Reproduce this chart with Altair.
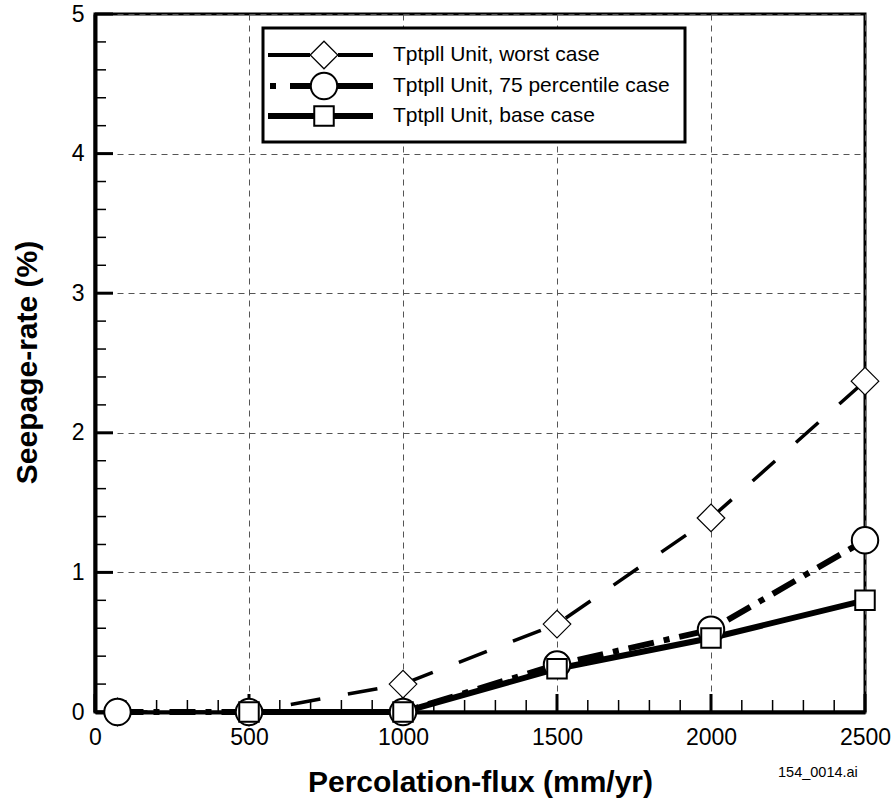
import altair as alt
import pandas as pd

# ---------------- data ----------------
series_names = [
    "Tptpll Unit, worst case",
    "Tptpll Unit, 75 percentile case",
    "Tptpll Unit, base case",
]
flux_worst = [73, 500, 1000, 1500, 2000, 2500]
rate_worst = [0.0, 0.0, 0.20, 0.63, 1.39, 2.37]
flux_p75 = [73, 500, 1000, 1500, 2000, 2500]
rate_p75 = [0.0, 0.0, 0.0, 0.34, 0.59, 1.23]
flux_base = [500, 1000, 1500, 2000, 2500]
rate_base = [0.0, 0.0, 0.31, 0.53, 0.80]

x_major = [0, 500, 1000, 1500, 2000, 2500]
x_minor = [100, 200, 300, 400, 600, 700, 800, 900, 1100, 1200, 1300, 1400,
           1600, 1700, 1800, 1900, 2100, 2200, 2300, 2400]
y_major = [0, 1, 2, 3, 4, 5]
y_minor = [0.2, 0.4, 0.6, 0.8, 1.2, 1.4, 1.6, 1.8, 2.2, 2.4, 2.6, 2.8,
           3.2, 3.4, 3.6, 3.8, 4.2, 4.4, 4.6, 4.8]
footnote = "154_0014.ai"

W, H = 770, 698
FONT = "Liberation Sans"

xs = alt.Scale(domain=[0, 2500], nice=False, zero=False)
ys = alt.Scale(domain=[0, 5], nice=False, zero=False)

df_worst = pd.DataFrame({"flux": flux_worst, "rate": rate_worst})
df_p75 = pd.DataFrame({"flux": flux_p75, "rate": rate_p75})
df_base = pd.DataFrame({"flux": flux_base, "rate": rate_base})

x_axis = alt.Axis(
    values=x_major, format="d", ticks=False, domain=True, domainColor="black",
    domainWidth=4, grid=True, gridDash=[6, 5], gridColor="#555", gridWidth=1,
    labelFont=FONT, labelFontSize=23, labelColor="black", labelPadding=14,
    labelFlush=False,
    title="Percolation-flux (mm/yr)", titleFont=FONT, titleFontSize=30,
    titleFontWeight="bold", titleColor="black", titleBaseline="alphabetic",
    titleY=79,
)
y_axis = alt.Axis(
    values=y_major, format="d", ticks=False, domain=True, domainColor="black",
    domainWidth=4, grid=True, gridDash=[6, 5], gridColor="#555", gridWidth=1,
    labelFont=FONT, labelFontSize=23, labelColor="black", labelPadding=11,
    labelFlush=False,
    title="Seepage-rate (%)", titleFont=FONT, titleFontSize=30,
    titleFontWeight="bold", titleColor="black", titleBaseline="alphabetic",
    titleX=-59, titleY=348, titleAngle=-90,
)

X = lambda f: alt.X(f, scale=xs, axis=x_axis)
Y = lambda f: alt.Y(f, scale=ys, axis=y_axis)

# ---------------- inward tick marks ----------------
def xticks(vals, length, width):
    return alt.Chart(pd.DataFrame({"flux": vals})).mark_rule(
        color="black", strokeWidth=width
    ).encode(x=X("flux:Q"), y=alt.value(H), y2=alt.value(H - length))

def yticks(vals, length, width):
    return alt.Chart(pd.DataFrame({"rate": vals})).mark_rule(
        color="black", strokeWidth=width
    ).encode(y=Y("rate:Q"), x=alt.value(0), x2=alt.value(length))

ticks = [
    xticks(x_minor, 12, 1.5), xticks(x_major, 18, 3),
    yticks(y_minor, 11, 1.5), yticks(y_major, 18, 3),
]

# ---------------- lines and markers ----------------
def line(df, dash, width):
    kw = dict(color="black", strokeWidth=width)
    if dash:
        kw["strokeDash"] = dash
    return alt.Chart(df).mark_line(**kw).encode(x=X("flux:Q"), y=Y("rate:Q"))

def points(df, shape, size, sw):
    return alt.Chart(df).mark_point(
        shape=shape, size=size, filled=True, fill="white", stroke="black",
        strokeWidth=sw, opacity=1,
    ).encode(x=X("flux:Q"), y=Y("rate:Q"))

styles = [
    dict(dash=[30, 28], width=3.5, shape="diamond", size=760, sw=1.2,
         legdash=[42, 28], lx=173),
    dict(dash=[26, 10, 6, 10], width=6, shape="circle", size=700, sw=2,
         legdash=[6, 14, 90, 10], lx=175),
    dict(dash=None, width=6, shape="square", size=380, sw=2,
         legdash=None, lx=173),
]
frames = [df_worst, df_p75, df_base]

lines = [line(d, s["dash"], s["width"]) for d, s in zip(frames, styles)]
marks = [points(d, s["shape"], s["size"], s["sw"]) for d, s in zip(frames, styles)]

# ---------------- legend ----------------
one = pd.DataFrame({"a": [0]})
legend = [
    alt.Chart(one).mark_rect(fill="white", stroke="black", strokeWidth=3).encode(
        x=alt.value(168), x2=alt.value(590), y=alt.value(14), y2=alt.value(128)
    )
]
row_y = [41, 72, 102]
for name, st, ry in zip(series_names, styles, row_y):
    kw = dict(color="black", strokeWidth=st["width"] if st["width"] > 4 else 4)
    if st["legdash"]:
        kw["strokeDash"] = st["legdash"]
    legend.append(
        alt.Chart(one).mark_rule(**kw).encode(
            x=alt.value(st["lx"]), x2=alt.value(278), y=alt.value(ry)
        )
    )
    legend.append(
        alt.Chart(one).mark_point(
            shape=st["shape"], size=st["size"], filled=True, fill="white",
            stroke="black", strokeWidth=st["sw"], opacity=1,
        ).encode(x=alt.value(229), y=alt.value(ry))
    )
    legend.append(
        alt.Chart(one).mark_text(
            align="left", baseline="middle", font=FONT, fontSize=21, color="black"
        ).encode(x=alt.value(298), y=alt.value(ry), text=alt.value(name))
    )

note = alt.Chart(one).mark_text(
    align="left", baseline="middle", font=FONT, fontSize=14.5, color="black"
).encode(x=alt.value(683), y=alt.value(759), text=alt.value(footnote))

chart = alt.layer(*ticks, *lines, *marks, *legend, note).properties(
    width=W, height=H,
    autosize=alt.AutoSizeParams(type="none"),
    padding={"left": 95, "top": 14, "right": 26, "bottom": 93},
    background="white",
).configure_view(stroke="black", strokeWidth=3)

chart.save("out.html", embed_options={"renderer": "svg", "actions": False})
